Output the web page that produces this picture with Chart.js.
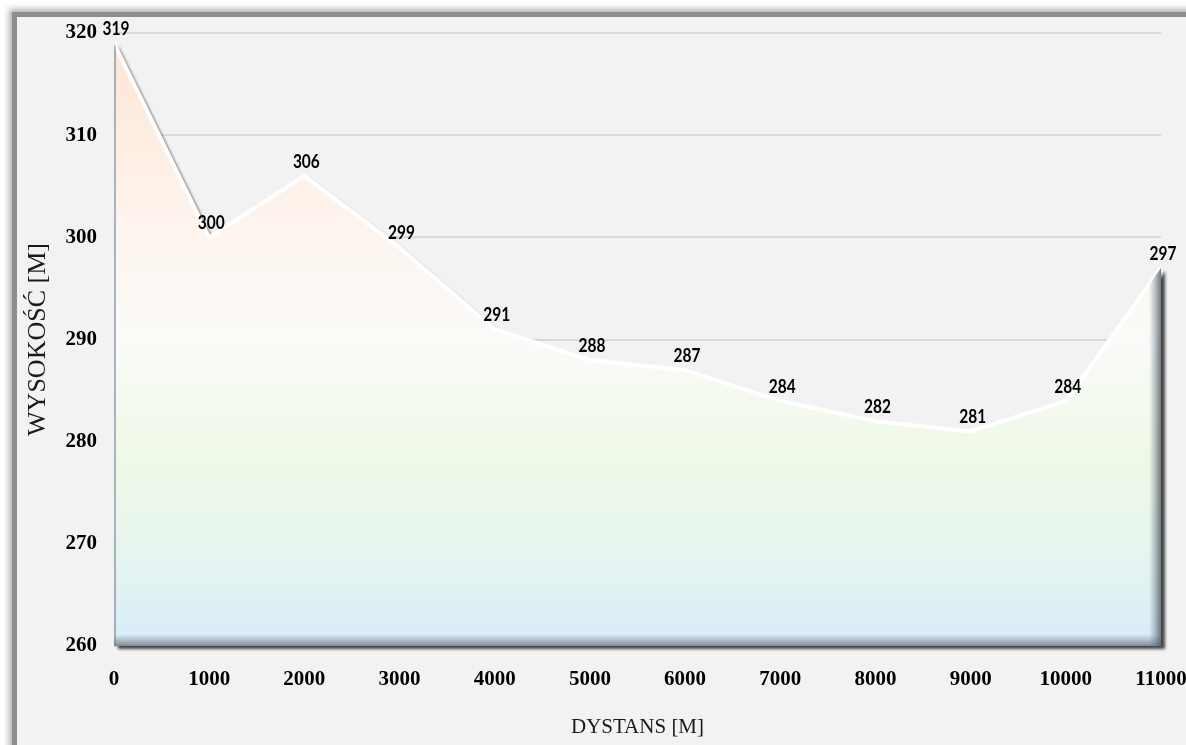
<!DOCTYPE html>
<html>
<head>
<meta charset="utf-8">
<script src="https://cdn.jsdelivr.net/npm/chart.js@4/dist/chart.umd.min.js"></script>
<style>
  html, body { margin: 0; padding: 0; background: #ffffff; width: 1186px; height: 745px; overflow: hidden; }
  #frame {
    position: absolute; left: 17px; top: 17px; width: 1300px; height: 820px;
    background: #f2f2f2;
    box-shadow: 0 0 0 5px #8e8e8e, 0 0 6px 8px rgba(150,150,150,0.75);
  }
  #wrap { position: absolute; left: 0; top: 0; width: 1240px; height: 745px; }
</style>
</head>
<body>
<div id="frame"></div>
<div id="wrap"><canvas id="c"></canvas></div>
<script>
// Elevation profile along the route
const distances = [0, 1000, 2000, 3000, 4000, 5000, 6000, 7000, 8000, 9000, 10000, 11000];
const heights   = [319, 300, 306, 299, 291, 288, 287, 284, 282, 281, 284, 297];
const yTicks    = [260, 270, 280, 290, 300, 310, 320];
const xTitle = 'DYSTANS [M]';
const yTitle = 'WYSOKOŚĆ [M]';

const points = distances.map((d, i) => ({ x: d, y: heights[i] }));

function profilePath(ctx, pts, bottom) {
  ctx.beginPath();
  ctx.moveTo(pts[0].x, bottom);
  pts.forEach(p => ctx.lineTo(p.x, p.y));
  ctx.lineTo(pts[pts.length - 1].x, bottom);
  ctx.closePath();
}

// drop shadow, bevel shading and value labels for the profile
const profilePlugin = {
  id: 'profileDecor',
  beforeDatasetsDraw(chart) {
    const pts = chart.getDatasetMeta(0).data;
    const a = chart.chartArea;
    const ctx = chart.ctx;
    ctx.save();
    ctx.filter = 'blur(1.5px)';
    ctx.translate(4, 3);
    profilePath(ctx, pts, a.bottom);
    ctx.fillStyle = 'rgba(40,40,40,0.85)';
    ctx.fill();
    ctx.restore();
  },
  afterDatasetsDraw(chart) {
    const pts = chart.getDatasetMeta(0).data;
    const a = chart.chartArea;
    const ctx = chart.ctx;
    const last = pts[pts.length - 1];
    ctx.save();
    profilePath(ctx, pts, a.bottom);
    ctx.clip();
    let g = ctx.createLinearGradient(0, a.bottom - 12, 0, a.bottom);
    g.addColorStop(0, 'rgba(110,125,140,0)');
    g.addColorStop(1, 'rgba(95,105,115,0.75)');
    ctx.fillStyle = g;
    ctx.fillRect(a.left, a.bottom - 12, last.x - a.left, 12);
    g = ctx.createLinearGradient(last.x - 12, 0, last.x, 0);
    g.addColorStop(0, 'rgba(110,125,140,0)');
    g.addColorStop(1, 'rgba(80,90,100,0.8)');
    ctx.fillStyle = g;
    ctx.fillRect(last.x - 12, a.top, 12, a.bottom - a.top);
    ctx.fillStyle = 'rgba(120,135,150,0.6)';
    ctx.fillRect(pts[0].x, a.top, 2, a.bottom - a.top);
    ctx.restore();

    ctx.save();
    ctx.font = 'bold 18px Lato, "Noto Sans", sans-serif';
    ctx.fillStyle = '#000';
    ctx.textAlign = 'center';
    ctx.textBaseline = 'middle';
    pts.forEach((p, i) => {
      ctx.save();
      ctx.translate(p.x + 2, p.y - 14);
      ctx.scale(0.86, 1);
      ctx.fillText(String(heights[i]), 0, 0);
      ctx.restore();
    });
    ctx.restore();
  }
};

new Chart(document.getElementById('c'), {
  type: 'line',
  data: {
    datasets: [{
      data: points,
      fill: 'start',
      tension: 0,
      pointRadius: 0,
      borderColor: '#ffffff',
      borderWidth: 4,
      borderJoinStyle: 'miter',
      backgroundColor: (c) => {
        const chart = c.chart;
        const a = chart.chartArea;
        if (!a) return '#fdf0e8';
        const g = chart.ctx.createLinearGradient(0, a.top, 0, a.bottom);
        g.addColorStop(0, '#fde4d4');
        g.addColorStop(0.3, '#fef4ed');
        g.addColorStop(0.5, '#fbfbf9');
        g.addColorStop(0.7, '#eef9e6');
        g.addColorStop(0.85, '#e6f5ef');
        g.addColorStop(1, '#d8ecfa');
        return g;
      }
    }]
  },
  options: {
    responsive: true,
    maintainAspectRatio: false,
    animation: false,
    layout: { padding: { left: 23, top: 33, right: 79, bottom: 5 } },
    plugins: { legend: { display: false }, tooltip: { enabled: false } },
    scales: {
      x: {
        type: 'linear',
        min: 0, max: 11000,
        border: { display: false },
        grid: { display: false, drawTicks: false },
        afterFit: (s) => { s.height = 94; },
        ticks: {
          stepSize: 1000,
          padding: 21,
          color: '#000',
          font: { family: '"Liberation Serif", serif', weight: 'bold', size: 21 },
          maxRotation: 0,
          callback: (v) => String(v)
        },
        title: {
          display: true, text: xTitle, color: '#1a1a1a',
          font: { family: '"Liberation Serif", serif', size: 21 },
          padding: { top: 22, bottom: 0 }
        }
      },
      y: {
        min: 260, max: 320,
        border: { display: false },
        grid: { color: '#d9d9d9', lineWidth: 2, drawTicks: false },
        afterBuildTicks: (s) => { s.ticks = yTicks.map(v => ({ value: v })); },
        afterFit: (s) => { s.width = 91; },
        ticks: {
          padding: 17,
          color: '#000',
          font: { family: '"Liberation Serif", serif', weight: 'bold', size: 21 },
          callback: (v) => String(v)
        },
        title: {
          display: true, text: yTitle, color: '#1a1a1a',
          font: { family: '"Liberation Serif", serif', size: 26 },
          padding: { top: 0, bottom: 10 }
        }
      }
    }
  },
  plugins: [profilePlugin]
});
</script>
</body>
</html>
